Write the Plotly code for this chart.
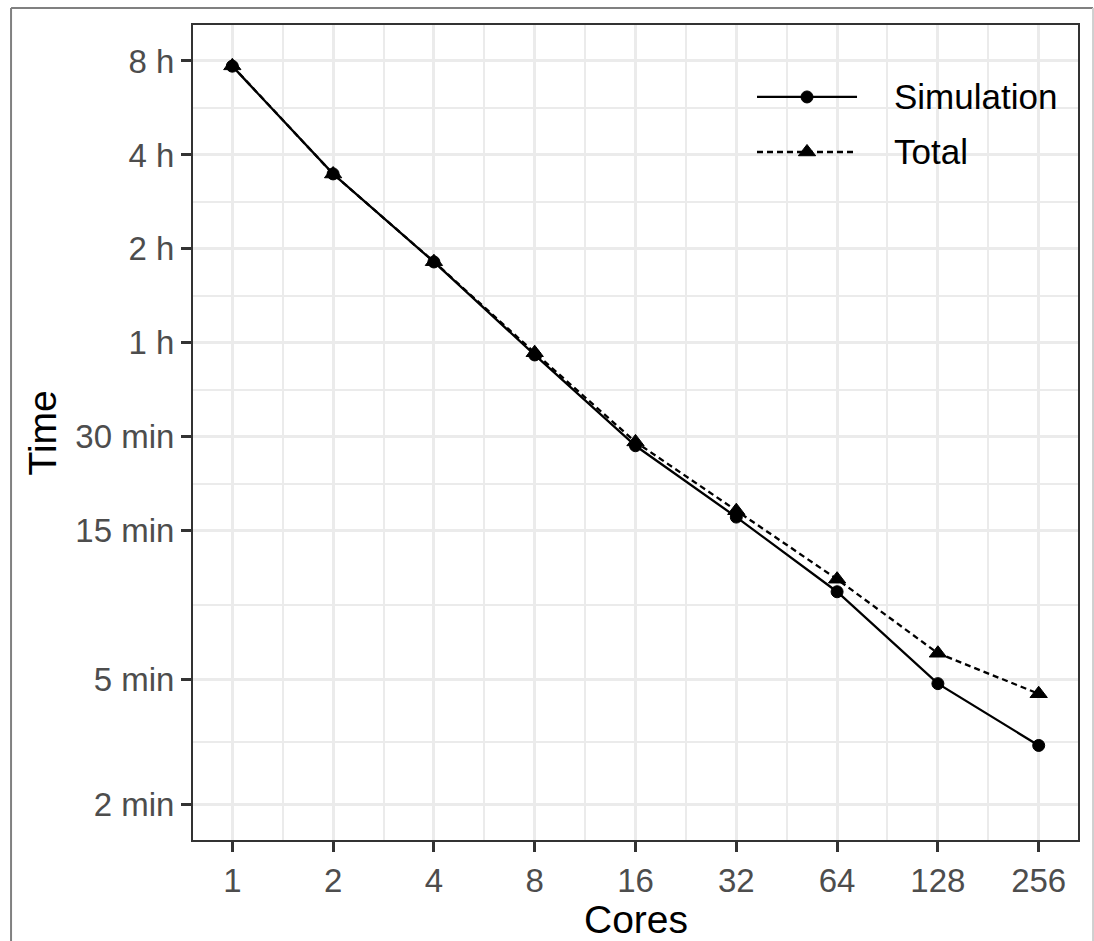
import math
import plotly.graph_objects as go

# Wall-clock time (minutes) versus number of cores
cores = [1, 2, 4, 8, 16, 32, 64, 128, 256]
simulation_min = [462, 208.7, 109.0, 54.9, 28.1, 16.6, 9.57, 4.86, 3.08]
total_min = [463, 208.5, 109.2, 55.8, 28.9, 17.4, 10.5, 6.08, 4.51]

x_ticks = cores
x_ticklabels = [str(c) for c in cores]
y_ticks = [2, 5, 15, 30, 60, 120, 240, 480]
y_ticklabels = ["2 min", "5 min", "15 min", "30 min", "1 h", "2 h", "4 h", "8 h"]

series_names = ["Simulation", "Total"]

# minor grid lines halfway (in log space) between major breaks
def log_midpoints(vals):
    return [math.sqrt(a * b) for a, b in zip(vals[:-1], vals[1:])]

FONT = "Liberation Sans"
GRID = "#EBEBEB"
DARK = "#333333"
LINE_W = 2.3
DASH = "6px,4px"

fig = go.Figure()

fig.add_trace(go.Scatter(
    x=cores, y=simulation_min, mode="lines+markers", name=series_names[0],
    line=dict(color="black", width=LINE_W),
    marker=dict(symbol="circle", size=12, color="black", line=dict(width=1, color="black")),
    showlegend=False,
))
fig.add_trace(go.Scatter(
    x=cores, y=total_min, mode="lines+markers", name=series_names[1],
    line=dict(color="black", width=LINE_W, dash=DASH),
    marker=dict(symbol="triangle-up", size=15, color="black", line=dict(width=1, color="black")),
    showlegend=False,
))

# legend keys, drawn on an overlay axis spanning the panel as [0, 1]
key_x = [0.6373, 0.7503]
key_mid = 0.6938
key_rows = [0.9117, 0.8442]
key_dash = ["solid", DASH]
key_symbol = ["circle", "triangle-up"]
key_size = [12, 15]
for name, yrow, dash, sym, sz in zip(series_names, key_rows, key_dash, key_symbol, key_size):
    fig.add_trace(go.Scatter(
        x=key_x, y=[yrow, yrow], mode="lines", xaxis="x2", yaxis="y2",
        line=dict(color="black", width=LINE_W, dash=dash), showlegend=False, hoverinfo="skip",
    ))
    fig.add_trace(go.Scatter(
        x=[key_mid], y=[yrow], mode="markers", xaxis="x2", yaxis="y2",
        marker=dict(symbol=sym, size=sz, color="black", line=dict(width=1, color="black")),
        showlegend=False, hoverinfo="skip",
    ))
    fig.add_annotation(
        x=0.7898, y=yrow, xref="paper", yref="paper", text=name, showarrow=False,
        xanchor="left", yanchor="middle", font=dict(family=FONT, size=35, color="black"),
    )

# white legend box over the grid
fig.add_shape(type="rect", xref="paper", yref="paper", x0=0.6, x1=1.0, y0=0.7865, y1=1.0,
              fillcolor="white", line=dict(width=0), layer="between")

# outer frame of the figure
fig.add_shape(type="line", xref="paper", yref="paper", x0=-0.2056, x1=1.017, y0=1.0209, y1=1.0209,
              line=dict(color="#808080", width=2), layer="above")
fig.add_shape(type="line", xref="paper", yref="paper", x0=-0.2056, x1=-0.2056, y0=-0.16, y1=1.0209,
              line=dict(color="#808080", width=2), layer="above")
fig.add_shape(type="line", xref="paper", yref="paper", x0=1.017, x1=1.017, y0=-0.16, y1=1.0209,
              line=dict(color="#CFCFCF", width=2), layer="above")

# axis titles
fig.add_annotation(x=0.5, y=-0.098, xref="paper", yref="paper", text="Cores", showarrow=False,
                   xanchor="center", yanchor="middle", font=dict(family=FONT, size=39, color="black"))
fig.add_annotation(x=-0.1695, y=0.5, xref="paper", yref="paper", text="Time", showarrow=False,
                   textangle=-90, xanchor="center", yanchor="middle",
                   font=dict(family=FONT, size=39, color="black"))

axis_common = dict(
    showline=True, linecolor=DARK, linewidth=2, mirror=True,
    ticks="outside", ticklen=10, tickwidth=2.5, tickcolor=DARK,
    tickfont=dict(family=FONT, size=33, color="#4D4D4D"),
    showgrid=True, gridcolor=GRID, gridwidth=3, zeroline=False,
)

fig.update_layout(
    width=1094, height=941,
    margin=dict(l=193, r=16, t=25, b=101),
    paper_bgcolor="white", plot_bgcolor="white",
    font=dict(family=FONT),
    xaxis=dict(
        type="log", range=[-0.39 * math.log10(2), 8.39 * math.log10(2)],
        tickmode="array", tickvals=x_ticks, ticktext=x_ticklabels,
        minor=dict(tickmode="array", tickvals=log_midpoints(x_ticks), showgrid=True,
                   gridcolor=GRID, gridwidth=1.6, ticks=""),
        **axis_common,
    ),
    yaxis=dict(
        type="log", range=[0.1857, 2.7965],
        tickmode="array", tickvals=y_ticks, ticktext=y_ticklabels,
        minor=dict(tickmode="array", tickvals=log_midpoints(y_ticks), showgrid=True,
                   gridcolor=GRID, gridwidth=1.6, ticks=""),
        **axis_common,
    ),
    xaxis2=dict(overlaying="x", range=[0, 1], visible=False, fixedrange=True),
    yaxis2=dict(overlaying="y", range=[0, 1], visible=False, fixedrange=True),
)

fig.write_html("out.html")
